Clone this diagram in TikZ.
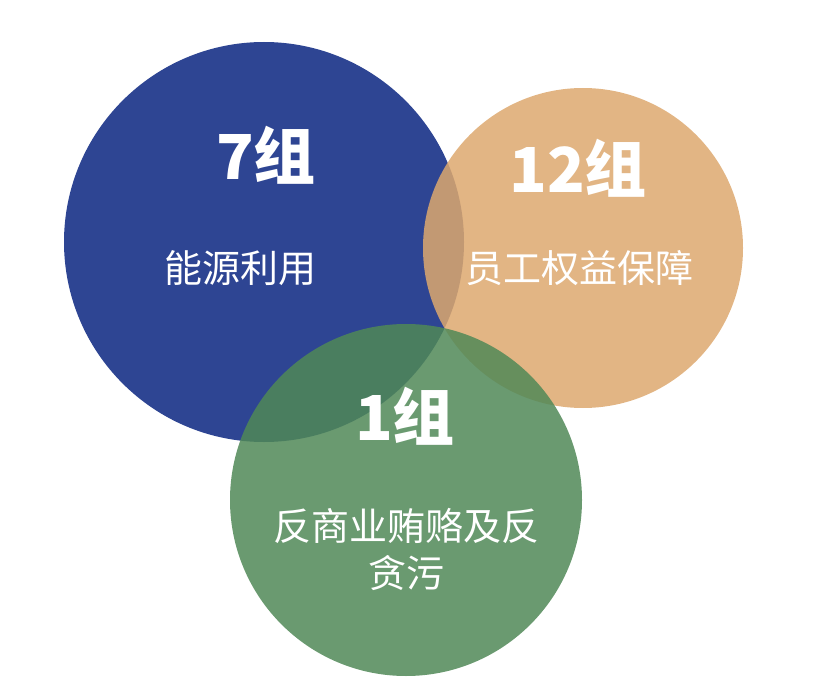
\documentclass[tikz,border=0pt]{standalone}
\usepackage{fontspec}
\setmainfont{Noto Sans CJK SC}
\usepackage{xcolor}
\usepackage{tikz}
\usetikzlibrary{positioning}

\definecolor{energyblue}{RGB}{46,69,147}
\definecolor{staffsand}{RGB}{221,168,110}
\definecolor{bribegreen}{RGB}{80,136,87}

\begin{document}
\begin{tikzpicture}[
  x=1pt, y=-1pt,
  group/.style={circle, inner sep=0pt, outer sep=0pt, fill opacity=0.85},
  count/.style={text=white, font=\fontsize{62}{62}\selectfont\bfseries},
  topic/.style={text=white, font=\fontsize{38}{47}\selectfont, align=center}
]
  \useasboundingbox (0,0) rectangle (814,695);

  % Circles (blue, then sand, then green on top)
  \node[group, minimum size=400pt, fill=energyblue, fill opacity=1] (energy) at (264,242) {};
  \node[group, minimum size=320pt, fill=staffsand] (staff) at (583,248) {};
  \node[group, minimum size=352pt, fill=bribegreen] (bribe) at (406,500) {};

  % Counts
  \node[count] (n7) at (266,155) {7组};
  \node[count] (n12) at (578,168) {12组};
  \node[count] (n1) at (405,416) {1组};

  % Topics
  \node[topic] (t7) at (240,268) {能源利用};
  \node[topic] (t12) at (579,268) {员工权益保障};
  \node[topic] (t1) at (406,549) {反商业贿赂及反\\贪污};
\end{tikzpicture}
\end{document}
